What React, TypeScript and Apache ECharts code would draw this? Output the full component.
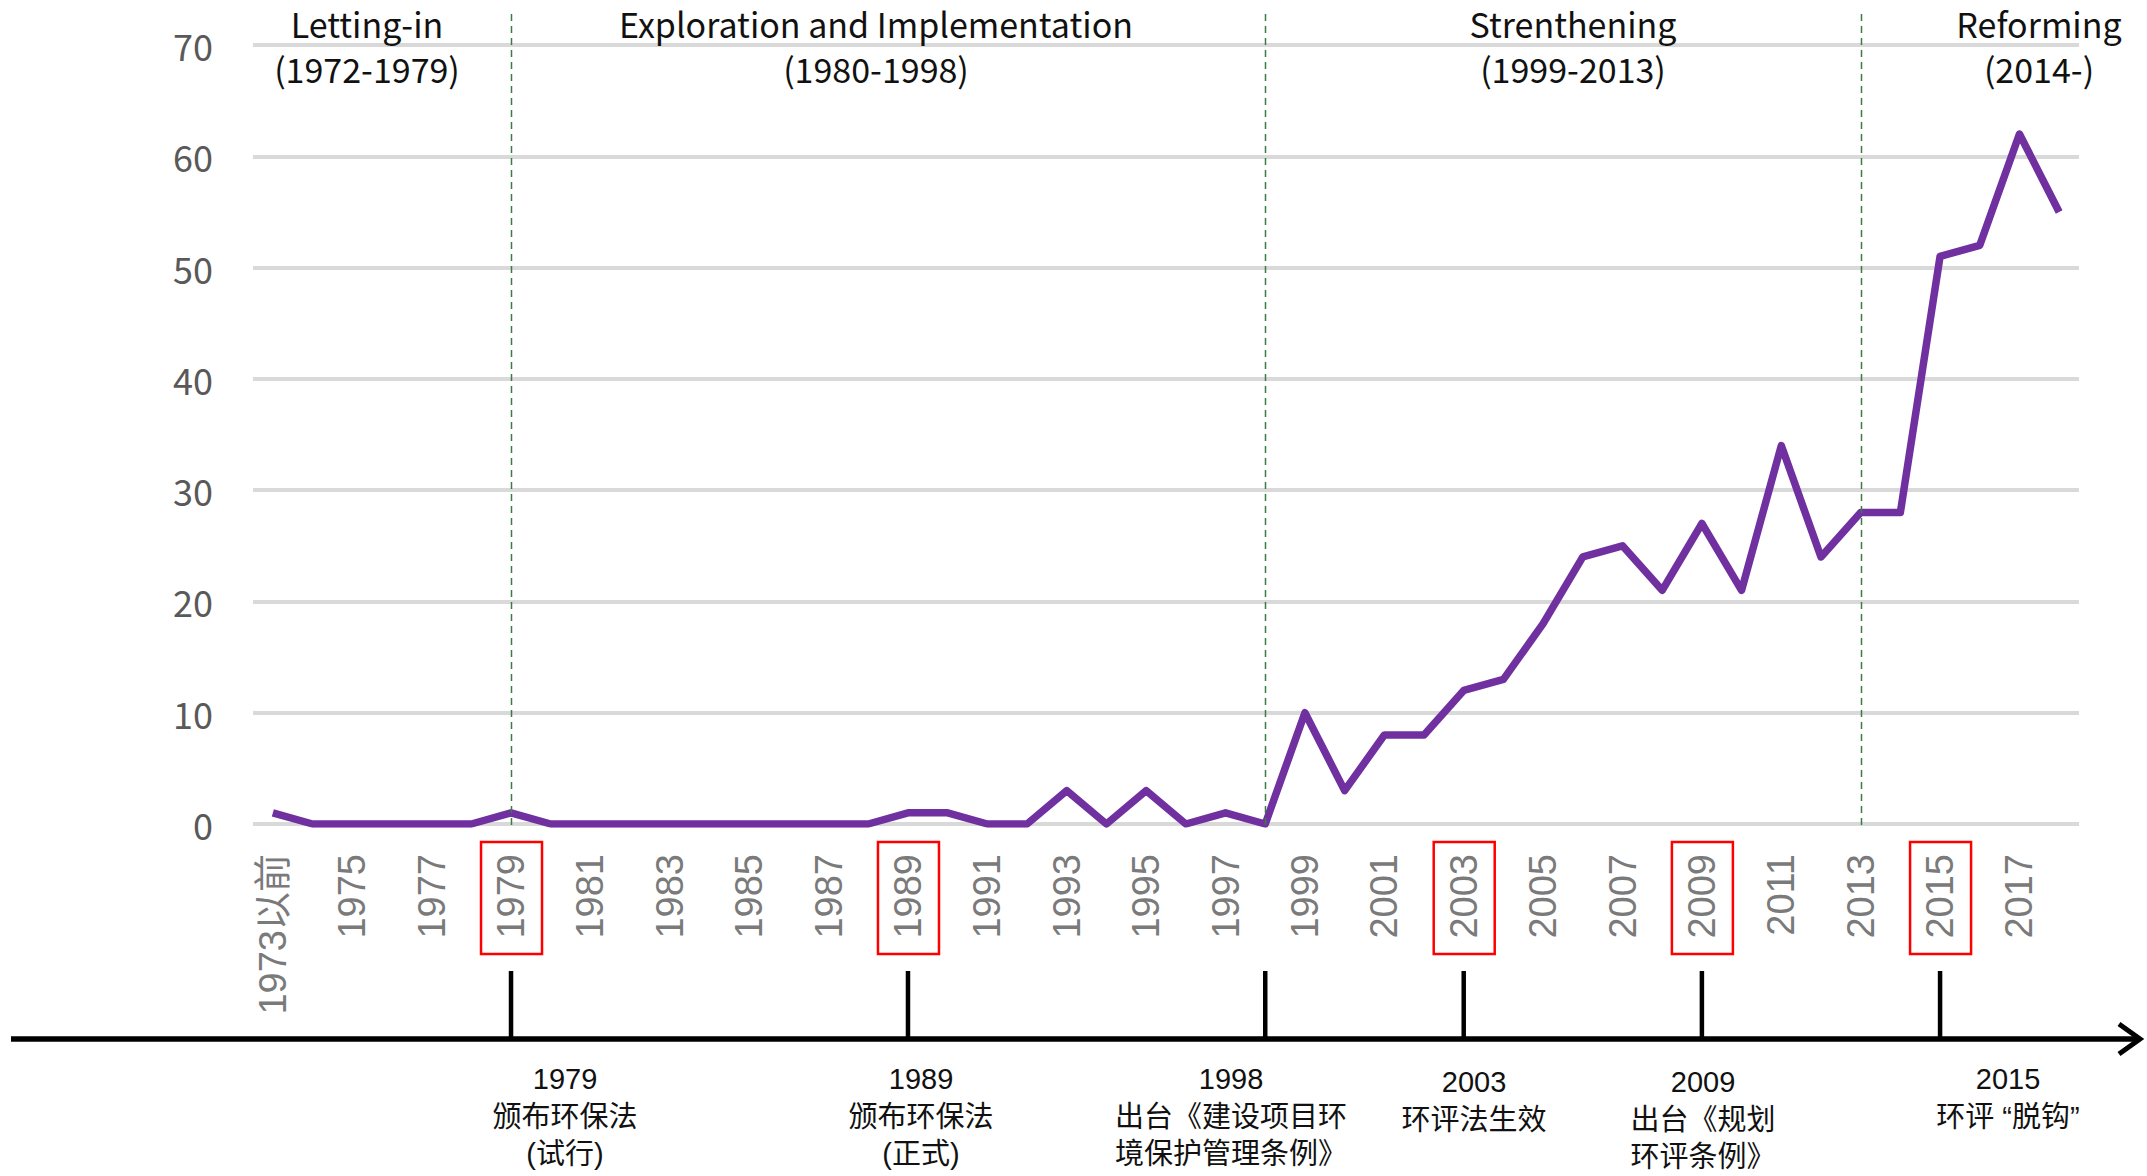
import React, { useEffect, useRef } from "react";
import * as echarts from "echarts";

const categories = [
  "1973以前", "1974", "1975", "1976", "1977", "1978", "1979", "1980", "1981", "1982",
  "1983", "1984", "1985", "1986", "1987", "1988", "1989", "1990", "1991", "1992",
  "1993", "1994", "1995", "1996", "1997", "1998", "1999", "2000", "2001", "2002",
  "2003", "2004", "2005", "2006", "2007", "2008", "2009", "2010", "2011", "2012",
  "2013", "2014", "2015", "2016", "2017", "2018",
];
const counts = [
  1, 0, 0, 0, 0, 0, 1, 0, 0, 0,
  0, 0, 0, 0, 0, 0, 1, 1, 0, 0,
  3, 0, 3, 0, 1, 0, 10, 3, 8, 8,
  12, 13, 18, 24, 25, 21, 27, 21, 34, 24,
  28, 28, 51, 52, 62, 55,
];
const yTicks = [0, 10, 20, 30, 40, 50, 60, 70];

const phaseNames = ["Letting-in", "Exploration and Implementation", "Strenthening", "Reforming"];
const phaseRanges = ["(1972-1979)", "(1980-1998)", "(1999-2013)", "(2014-)"];
const phaseBoundaries = ["1979", "1998", "2013"];

const highlightedYears = ["1979", "1989", "2003", "2009", "2015"];
const eventYears = ["1979", "1989", "1998", "2003", "2009", "2015"];
const eventLines = [
  ["1979", "颁布环保法", "(试行)"],
  ["1989", "颁布环保法", "(正式)"],
  ["1998", "出台《建设项目环", "境保护管理条例》"],
  ["2003", "环评法生效"],
  ["2009", "出台《规划", "环评条例》"],
  ["2015", "环评 “脱钩”"],
];

// layout (pixels)
const phaseCenterX = [367, 876, 1573, 2039];
const phaseLineY = [23, 68];
const eventCenterX = [565, 921, 1231, 1474, 1703, 2008];
const eventFirstY = [1079, 1079, 1079, 1082, 1082, 1079];
const eventLineGap = 37.5;

const W = 2147;
const H = 1176;

export default function App() {
  const ref = useRef<HTMLDivElement>(null);
  useEffect(() => {
    if (!ref.current) return;
    const chart = echarts.init(ref.current, null, { renderer: "svg" });
    const option: any = {
      animation: false,
      backgroundColor: "#ffffff",
      grid: { left: 253, right: 68, top: 45, bottom: 352, containLabel: false },
      xAxis: {
        type: "category",
        data: categories,
        boundaryGap: true,
        axisLine: { show: false },
        axisTick: { show: false },
        splitLine: { show: false },
        axisLabel: {
          interval: 1,
          rotate: 90,
          margin: 30,
          fontSize: 38,
          color: "#7a7a7a",
          fontFamily: "Liberation Sans, Noto Sans CJK SC, sans-serif",
        },
      },
      yAxis: {
        type: "value",
        min: 0,
        max: 70,
        interval: 10,
        axisLine: { show: false },
        axisTick: { show: false },
        splitLine: { lineStyle: { color: "#d9d9d9", width: 4 } },
        axisLabel: {
          margin: 40,
          fontSize: 36,
          color: "#595959",
          fontFamily: "Noto Sans CJK SC, sans-serif",
          formatter: (v: number) => (yTicks.includes(v) ? String(v) : ""),
        },
      },
      series: [
        {
          type: "line",
          data: counts,
          showSymbol: false,
          symbol: "none",
          lineStyle: { color: "#7030A0", width: 7.5, join: "round" },
          itemStyle: { color: "#7030A0" },
          z: 5,
        },
      ],
    };
    chart.setOption(option);

    const px = (cat: string) => chart.convertToPixel({ xAxisIndex: 0 }, categories.indexOf(cat)) as number;
    const py = (v: number) => chart.convertToPixel({ yAxisIndex: 0 }, v) as number;
    const y0 = py(0);
    const elements: any[] = [];

    // phase boundaries
    phaseBoundaries.forEach((c) => {
      const x = Math.round(px(c)) + 0.5;
      elements.push({
        type: "line",
        shape: { x1: x, y1: 14, x2: x, y2: y0 + 2 },
        style: { stroke: "#3a7d44", lineWidth: 1.5, lineDash: [7, 5] },
        z: 10,
      });
    });

    // phase titles
    phaseNames.forEach((n, i) => {
      [n, phaseRanges[i]].forEach((t, j) => {
        elements.push({
          type: "text",
          x: phaseCenterX[i],
          y: phaseLineY[j],
          style: {
            text: t,
            align: "center",
            verticalAlign: "middle",
            fontSize: 34,
            fill: "#111111",
            fontFamily: "Noto Sans CJK SC, sans-serif",
          },
          z: 10,
        });
      });
    });

    // red boxes
    highlightedYears.forEach((c) => {
      const x = px(c);
      elements.push({
        type: "rect",
        shape: { x: x - 30, y: 842, width: 61, height: 112 },
        style: { fill: "none", stroke: "#ff0000", lineWidth: 2.5 },
        z: 10,
      });
    });

    // timeline
    elements.push({
      type: "line",
      shape: { x1: 11, y1: 1039, x2: 2138, y2: 1039 },
      style: { stroke: "#000000", lineWidth: 5.5 },
      z: 10,
    });
    elements.push({
      type: "polyline",
      shape: { points: [[2119, 1024], [2140, 1039], [2119, 1054]] },
      style: { stroke: "#000000", lineWidth: 5, fill: "none" },
      z: 10,
    });
    eventYears.forEach((c, i) => {
      const x = px(c);
      elements.push({
        type: "line",
        shape: { x1: x, y1: 971, x2: x, y2: 1038 },
        style: { stroke: "#000000", lineWidth: 4.5 },
        z: 10,
      });
      eventLines[i].forEach((t, j) => {
        elements.push({
          type: "text",
          x: eventCenterX[i],
          y: eventFirstY[i] + j * eventLineGap,
          style: {
            text: t,
            align: "center",
            verticalAlign: "middle",
            fontSize: 29,
            fill: "#111111",
            fontFamily: "Liberation Sans, Noto Sans CJK SC, sans-serif",
          },
          z: 10,
        });
      });
    });

    chart.setOption({ graphic: { elements } });
    return () => chart.dispose();
  }, []);
  return (
    <div
      ref={ref}
      style={{ position: "absolute", left: 0, top: 0, width: W, height: H, background: "#fff" }}
    />
  );
}
